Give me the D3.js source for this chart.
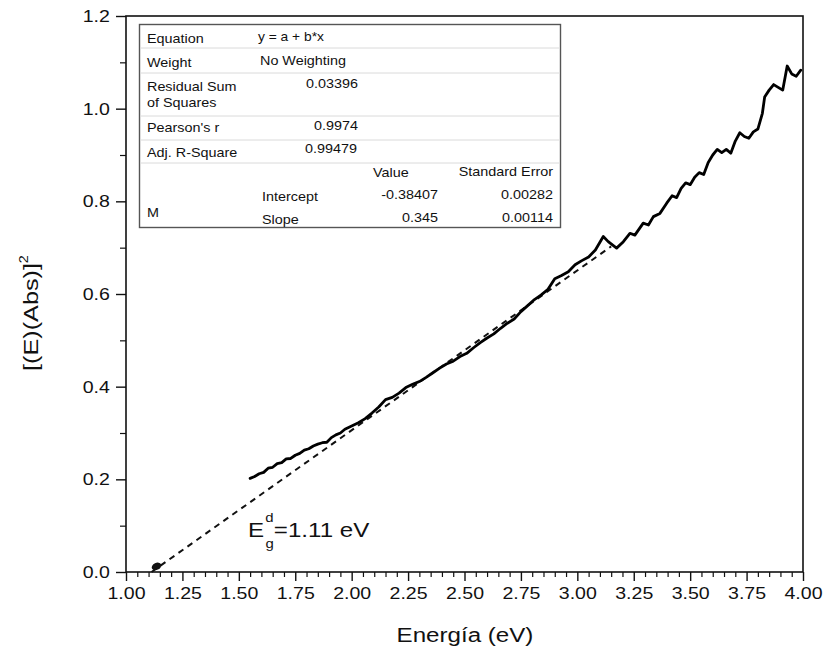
<!DOCTYPE html>
<html>
<head>
<meta charset="utf-8">
<script src="https://cdn.jsdelivr.net/npm/d3@7"></script>
<style>
  html, body { margin: 0; padding: 0; background: #fff; }
  svg text { font-family: "Liberation Sans", Arial, sans-serif; fill: #111; }
</style>
</head>
<body>
<svg id="chart" width="826" height="652"></svg>
<script>
// Energy (eV) and [(E)(Abs)]^2 measured curve
const energy = [1.55,1.57,1.59,1.61,1.63,1.65,1.67,1.69,1.71,1.73,1.75,1.77,1.79,1.81,1.83,1.85,1.87,1.89,1.91,1.93,1.95,1.97,2.00,2.03,2.06,2.09,2.12,2.15,2.18,2.21,2.24,2.27,2.30,2.33,2.36,2.39,2.42,2.45,2.48,2.51,2.54,2.57,2.60,2.63,2.66,2.69,2.72,2.75,2.78,2.81,2.84,2.87,2.90,2.93,2.96,2.99,3.02,3.05,3.08,3.115,3.137,3.174,3.204,3.233,3.255,3.292,3.315,3.337,3.366,3.396,3.42,3.44,3.46,3.48,3.50,3.52,3.54,3.56,3.58,3.60,3.62,3.64,3.66,3.68,3.70,3.72,3.74,3.76,3.78,3.80,3.82,3.83,3.85,3.87,3.89,3.91,3.93,3.95,3.97,3.99];
const absSq = [0.202,0.206,0.212,0.215,0.224,0.226,0.234,0.236,0.244,0.245,0.252,0.256,0.263,0.266,0.272,0.276,0.279,0.280,0.290,0.296,0.300,0.308,0.315,0.322,0.331,0.343,0.356,0.372,0.377,0.386,0.398,0.405,0.411,0.420,0.430,0.440,0.449,0.455,0.465,0.472,0.484,0.495,0.505,0.514,0.526,0.537,0.546,0.562,0.575,0.588,0.598,0.610,0.633,0.640,0.648,0.663,0.672,0.680,0.695,0.724,0.713,0.699,0.713,0.731,0.727,0.753,0.749,0.767,0.774,0.796,0.812,0.808,0.828,0.840,0.836,0.852,0.862,0.858,0.884,0.900,0.912,0.905,0.912,0.904,0.930,0.948,0.940,0.936,0.950,0.956,0.990,1.025,1.040,1.052,1.046,1.040,1.092,1.075,1.070,1.083];

// Linear fit y = a + b*x
const fitIntercept = -0.38407;
const fitSlope = 0.345;
const fitRange = [-fitIntercept / fitSlope, 3.15];
const interceptMarker = [1.135, 0.012];

// Axis ticks
const xTicks = [1.00,1.25,1.50,1.75,2.00,2.25,2.50,2.75,3.00,3.25,3.50,3.75,4.00];
const yTicks = [0.0,0.2,0.4,0.6,0.8,1.0,1.2];

// Fit report table
const reportLabels = ["Equation","Weight","Residual Sum","of Squares","Pearson's r","Adj. R-Square","M"];
const reportValues = ["y = a + b*x","No Weighting","0.03396","0.9974","0.99479"];
const paramHeaders = ["Value","Standard Error"];
const paramNames = ["Intercept","Slope"];
const paramValues = ["-0.38407","0.345"];
const paramErrors = ["0.00282","0.00114"];

const svg = d3.select("#chart");
const SX = 1.15; // horizontal text stretch

const x = d3.scaleLinear().domain([1, 4]).range([126, 803]);
const y = d3.scaleLinear().domain([0, 1.2]).range([572, 16]);

// stretched text helper
function stretchText(parent, tx, ty, str, size, anchor) {
  const g = parent.append("g").attr("transform", `translate(${tx},${ty}) scale(${SX},1)`);
  return g.append("text").attr("text-anchor", anchor || "start")
    .style("font-size", size + "px").text(str);
}

// Minor ticks
const xMinor = d3.range(1, 4.0001, 0.05).filter(v => !xTicks.some(t => Math.abs(t - v) < 1e-6));
const yMinor = d3.range(0.1, 1.2, 0.2);

svg.append("g").attr("transform", "translate(0,572)")
  .call(d3.axisBottom(x).tickValues(xMinor).tickSize(5).tickFormat(""))
  .call(g => g.select(".domain").remove())
  .selectAll("line").attr("stroke", "#111").attr("stroke-width", 1.2);

svg.append("g").attr("transform", "translate(126,0)")
  .call(d3.axisLeft(y).tickValues(yMinor).tickSize(6).tickFormat(""))
  .call(g => g.select(".domain").remove())
  .selectAll("line").attr("stroke", "#111").attr("stroke-width", 1.2);

// Major ticks and labels
const xAxis = svg.append("g").attr("transform", "translate(0,572)")
  .call(d3.axisBottom(x).tickValues(xTicks).tickSize(9).tickPadding(6).tickFormat(d3.format(".2f")));
xAxis.select(".domain").remove();
xAxis.selectAll("line").attr("stroke", "#111").attr("stroke-width", 1.4);
xAxis.selectAll("text").attr("transform", `scale(${SX},1)`)
  .style("font-size", "17px").attr("fill", "#111")
  .style("font-family", "'Liberation Sans', Arial, sans-serif");

const yAxis = svg.append("g").attr("transform", "translate(126,0)")
  .call(d3.axisLeft(y).tickValues(yTicks).tickSize(10).tickPadding(4).tickFormat(d3.format(".1f")));
yAxis.select(".domain").remove();
yAxis.selectAll("line").attr("stroke", "#111").attr("stroke-width", 1.4);
yAxis.selectAll("text").attr("transform", `scale(${SX},1)`)
  .style("font-size", "17px").attr("fill", "#111")
  .style("font-family", "'Liberation Sans', Arial, sans-serif");

// Frame
svg.append("rect")
  .attr("x", x(1)).attr("y", y(1.2))
  .attr("width", x(4) - x(1)).attr("height", y(0) - y(1.2))
  .attr("fill", "none").attr("stroke", "#111").attr("stroke-width", 1.6);

// Fit report table
const tbl = svg.append("g");
tbl.append("rect").attr("x", 139.5).attr("y", 24.5).attr("width", 421).attr("height", 203)
  .attr("fill", "#fff").attr("stroke", "#555").attr("stroke-width", 1.4);
[48, 73, 116, 140, 163].forEach(ly => {
  tbl.append("line").attr("x1", 141).attr("x2", 559).attr("y1", ly).attr("y2", ly)
    .attr("stroke", "#dadada").attr("stroke-width", 1);
});
const labelY = [43, 67, 91, 107, 132, 157, 217];
reportLabels.forEach((s, i) => stretchText(tbl, 147, labelY[i], s, 12.5));
stretchText(tbl, 258, 41, reportValues[0], 12);
stretchText(tbl, 260, 65, reportValues[1], 12.5);
stretchText(tbl, 358, 88, reportValues[2], 12.5, "end");
stretchText(tbl, 358, 130, reportValues[3], 12.5, "end");
stretchText(tbl, 357, 153, reportValues[4], 12.5, "end");
stretchText(tbl, 373, 177, paramHeaders[0], 12.5);
stretchText(tbl, 553, 176, paramHeaders[1], 12.5, "end");
const pY = [201, 224];
paramNames.forEach((s, i) => stretchText(tbl, 262, pY[i], s, 12.5));
paramValues.forEach((s, i) => stretchText(tbl, 438, pY[i] - 2, s, 12.5, "end"));
paramErrors.forEach((s, i) => stretchText(tbl, 553, pY[i] - 2, s, 12.5, "end"));

// Fit line (dashed)
svg.append("line")
  .attr("x1", x(fitRange[0])).attr("y1", y(fitIntercept + fitSlope * fitRange[0]))
  .attr("x2", x(fitRange[1])).attr("y2", y(fitIntercept + fitSlope * fitRange[1]))
  .attr("stroke", "#111").attr("stroke-width", 2).attr("stroke-dasharray", "6,5");

svg.append("ellipse")
  .attr("cx", x(interceptMarker[0])).attr("cy", y(interceptMarker[1]))
  .attr("rx", 5).attr("ry", 3.5).attr("fill", "#111")
  .attr("transform", `rotate(-25,${x(interceptMarker[0])},${y(interceptMarker[1])})`);

// Measured curve
const pts = energy.map((e, i) => [e, absSq[i]]);
svg.append("path")
  .attr("d", d3.line().x(d => x(d[0])).y(d => y(d[1]))(pts))
  .attr("fill", "none").attr("stroke", "#000").attr("stroke-width", 2.8)
  .attr("stroke-linejoin", "round").attr("stroke-linecap", "round");

// Band-gap annotation
const ann = svg.append("g").attr("transform", `translate(248,537) scale(${SX},1)`);
const at = ann.append("text").style("font-size", "21px");
at.append("tspan").text("E");
at.append("tspan").attr("dy", -15).attr("dx", 1).style("font-size", "13px").text("d");
at.append("tspan").attr("dx", -7).attr("dy", 26).style("font-size", "13px").text("g");
at.append("tspan").attr("dy", -11).text("=1.11 eV");

// Axis titles
stretchText(svg, 465, 642, "Energía (eV)", 21, "middle");
const yt = svg.append("g").attr("transform", `translate(38,313) rotate(-90) scale(1.2,1)`);
const ytt = yt.append("text").attr("text-anchor", "middle").style("font-size", "21px");
ytt.append("tspan").text("[(E)(Abs)]");
ytt.append("tspan").attr("dy", -10).style("font-size", "12px").text("2");
</script>
</body>
</html>
